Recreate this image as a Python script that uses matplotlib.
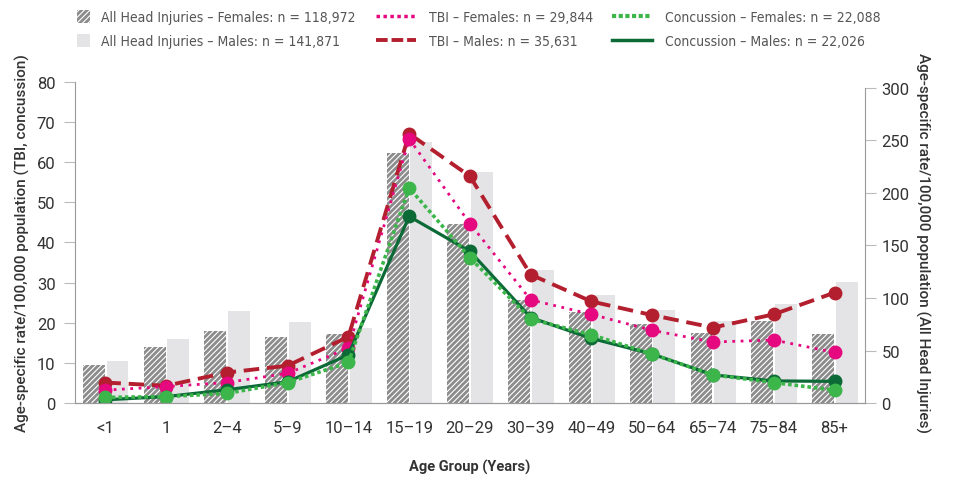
import numpy as np
import matplotlib.pyplot as plt
from matplotlib.lines import Line2D
from matplotlib.patches import Patch, Rectangle
from matplotlib.legend_handler import HandlerPatch
from matplotlib import font_manager

plt.rcParams["font.family"] = ["Roboto", "DejaVu Sans"]
plt.rcParams["hatch.color"] = "white"
plt.rcParams["hatch.linewidth"] = 0.8

ages = ["<1", "1", "2–4", "5–9", "10–14", "15–19", "20–29", "30–39",
        "40–49", "50–64", "65–74", "75–84", "85+"]

# all head injuries (right axis)
head_f = [36, 53, 69, 63, 66, 238, 170, 98, 87, 75, 67, 78, 66]
head_m = [40, 61, 88, 77, 71, 249, 220, 127, 103, 89, 78, 94, 115]

# TBI / concussion (left axis)
tbi_m = [5.1, 4.3, 7.6, 9.3, 16.5, 67.1, 56.5, 32.0, 25.3, 21.9, 18.8, 22.1, 27.5]
tbi_f = [3.2, 4.1, 5.1, 7.4, 13.7, 65.8, 44.7, 25.7, 22.1, 18.1, 15.2, 15.7, 12.6]
conc_m = [0.8, 1.6, 3.3, 5.3, 12.0, 46.5, 37.8, 21.3, 16.1, 12.2, 7.0, 5.5, 5.4]
conc_f = [1.4, 1.6, 2.4, 5.1, 10.1, 53.6, 36.2, 20.9, 17.0, 12.2, 7.0, 5.1, 3.2]

labels = ["All Head Injuries – Females: n = 118,972", "All Head Injuries – Males: n = 141,871",
          "TBI – Females: n = 29,844", "TBI – Males: n = 35,631",
          "Concussion – Females: n = 22,088", "Concussion – Males: n = 22,026"]

# use a condensed face for the legend if there is one
fp = font_manager.FontProperties(family="DejaVu Sans", stretch="condensed")
if "Condensed" in font_manager.findfont(fp, fallback_to_default=True):
    leg_prop = {"family": "DejaVu Sans", "stretch": "condensed", "size": 10}
else:
    leg_prop = {"family": "Roboto", "size": 9.5}


class SquareHandler(HandlerPatch):
    # small square swatch instead of a long bar
    def create_artists(self, legend, orig, xd, yd, width, height, fontsize, trans):
        s = 13 * 72 / 100
        r = Rectangle((-xd, -yd + (height - s) / 2), s, s)
        self.update_prop(r, orig, legend)
        r.set_transform(trans)
        return [r]


txt = "#333333"
fig = plt.figure(figsize=(9.55, 4.89), dpi=100)
ax2 = fig.add_axes([0.0785, 0.1738, 0.8272, 0.6565])  # right axis (bars)
ax = ax2.twinx()
ax.yaxis.tick_left()
ax.yaxis.set_label_position("left")
ax2.yaxis.tick_right()
ax2.yaxis.set_label_position("right")

x = np.arange(len(ages))
w = 0.36
b1 = ax2.bar(x - 0.19, head_f, w, color="#8c8c8c", hatch="//////", edgecolor="white", linewidth=0)
b2 = ax2.bar(x + 0.20, head_m, w, color="#e4e4e6", linewidth=0)

l1, = ax.plot(x, tbi_m, color="#b31f2e", ls=(0, (4, 2)), lw=2.8, marker="o", ms=9)
l2, = ax.plot(x, tbi_f, color="#e5087e", ls=(0, (1, 2)), lw=2, marker="o", ms=9)
l3, = ax.plot(x, conc_m, color="#0b6a35", ls="-", lw=2.3, marker="o", ms=9)
l4, = ax.plot(x, conc_f, color="#3cb64a", ls=(0, (1, 0.8)), lw=2.6, marker="o", ms=9)

ax.set_xlim(-0.5, 12.5)
ax.set_ylim(0, 80)
ax2.set_ylim(0, 305.7)
ax.set_yticks(range(0, 81, 10))
ax2.set_yticks(range(0, 301, 50))
ax.spines["left"].set_bounds(0, 80)
ax2.spines["right"].set_bounds(0, 300)

for a in (ax, ax2):
    a.spines["top"].set_visible(False)
    for s in ("left", "right", "bottom"):
        a.spines[s].set_color("#999999")
ax.spines["right"].set_visible(False)
ax2.spines["left"].set_visible(False)

ax2.set_xticks(x[:-1] + 0.5)
ax2.set_xticklabels([])
ax2.tick_params(axis="x", direction="in", length=6, color="#999999")
ax.set_xticks([])
for i, s in enumerate(ages):
    ax.text(i, -6.2, s, ha="center", va="center", fontsize=12, color=txt)

ax.tick_params(axis="y", length=8, color="#bbbbbb", labelsize=12, labelcolor=txt, pad=6)
ax2.tick_params(axis="y", length=8, color="#bbbbbb", labelsize=12, labelcolor=txt, pad=4)

ax.set_ylabel("Age-specific rate/100,000 population (TBI, concussion)", fontsize=11,
              color=txt, fontweight="medium", labelpad=5)
ax2.set_ylabel("Age-specific rate/100,000 population (All Head Injuries)", fontsize=11,
               color=txt, fontweight="medium", rotation=270, labelpad=15)
fig.text(0.492, 0.043, "Age Group (Years)", ha="center", va="center", fontsize=10.5,
         color=txt, fontweight="bold")

# legend: one block per column so each column sits where the reference has it
cols = [
    ([Patch(facecolor="#8c8c8c", hatch="//////", edgecolor="white", linewidth=0),
      Patch(facecolor="#e4e4e6", linewidth=0)], labels[0:2], 77, 1.0, 0.75),
    ([Line2D([], [], color="#e5087e", ls=(0, (1, 1)), lw=2.5),
      Line2D([], [], color="#b31f2e", ls=(0, (3, 1)), lw=2.8)], labels[2:4], 376, 2.9, 0.9),
    ([Line2D([], [], color="#3cb64a", ls=(0, (1, 0.6)), lw=3),
      Line2D([], [], color="#0b6a35", lw=2.5)], labels[4:6], 612, 2.9, 0.9),
]
for hs, ls_, x0, hlen, hpad in cols:
    lg = fig.legend(hs, ls_, loc="upper left", bbox_to_anchor=(x0 / 955, 1 - 11 / 489),
                    frameon=False, labelcolor="#555555", prop=leg_prop,
                    handlelength=hlen, handletextpad=hpad, handleheight=0.9,
                    labelspacing=0.75, borderpad=0, borderaxespad=0,
                    handler_map={Patch: SquareHandler()})

plt.savefig("out.png", dpi=100)
